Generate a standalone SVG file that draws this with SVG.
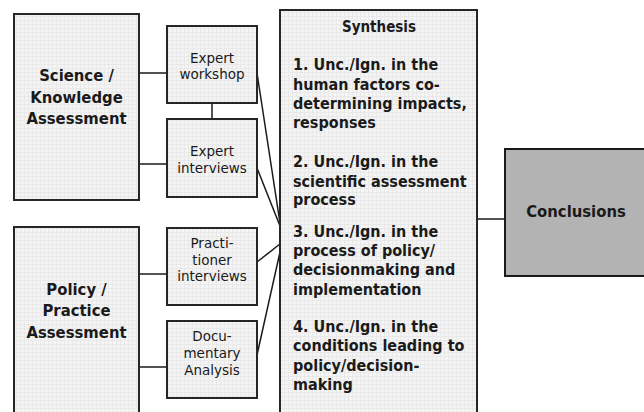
<svg xmlns="http://www.w3.org/2000/svg" width="644" height="412" viewBox="0 0 644 412">
  <defs>
    <!-- faint hatch grid used as box fill -->
    <pattern id="grid" width="4" height="4" patternUnits="userSpaceOnUse">
      <rect width="4" height="4" fill="#f4f4f4"/>
      <path d="M0 0.5H4M0.5 0V4" stroke="#e9e9e9" stroke-width="1"/>
    </pattern>
    <style>
      .box { fill: url(#grid); stroke: #262626; stroke-width: 2; }
      .dark { fill: #b3b3b3; stroke: #1a1a1a; stroke-width: 2; }
      .link { stroke: #1a1a1a; stroke-width: 1.5; fill: none; }
      text { font-family: "DejaVu Sans", "Liberation Sans", sans-serif; fill: #1a1a1a; }
      .big { font-size: 16.5px; font-weight: bold; font-stretch: condensed; text-anchor: middle; }
      .small { font-size: 13.5px; text-anchor: middle; }
      .list { font-size: 16px; font-weight: bold; font-stretch: condensed; }
      .title { font-size: 15px; font-weight: bold; font-stretch: condensed; text-anchor: middle; }
    </style>
  </defs>

  <rect width="644" height="412" fill="#ffffff"/>

  <!-- connectors -->
  <g id="connectors">
    <line class="link" x1="139" y1="73" x2="167" y2="73"/>
    <line class="link" x1="139" y1="164" x2="167" y2="164"/>
    <line class="link" x1="212" y1="103" x2="212" y2="119"/>
    <line class="link" x1="139" y1="274" x2="167" y2="274"/>
    <line class="link" x1="139" y1="367" x2="167" y2="367"/>
    <line class="link" x1="257" y1="73" x2="280" y2="223"/>
    <line class="link" x1="257" y1="168" x2="280" y2="226"/>
    <line class="link" x1="257" y1="262" x2="280" y2="244"/>
    <line class="link" x1="257" y1="355" x2="280" y2="252"/>
    <line class="link" x1="477" y1="219" x2="505" y2="219"/>
  </g>

  <g id="science">
    <rect class="box" x="14" y="14" width="125" height="186"/>
    <text class="big" x="76.5" y="81">Science /</text>
    <text class="big" x="76.5" y="103">Knowledge</text>
    <text class="big" x="76.5" y="124">Assessment</text>
  </g>

  <g id="policy">
    <rect class="box" x="14" y="227" width="125" height="195"/>
    <text class="big" x="76.5" y="295">Policy /</text>
    <text class="big" x="76.5" y="316">Practice</text>
    <text class="big" x="76.5" y="338">Assessment</text>
  </g>

  <g id="expert-workshop">
    <rect class="box" x="167" y="26" width="90" height="77"/>
    <text class="small" x="212" y="63">Expert</text>
    <text class="small" x="212" y="79">workshop</text>
  </g>

  <g id="expert-interviews">
    <rect class="box" x="167" y="119" width="90" height="78"/>
    <text class="small" x="212" y="156">Expert</text>
    <text class="small" x="212" y="173">interviews</text>
  </g>

  <g id="practitioner-interviews">
    <rect class="box" x="167" y="228" width="90" height="77"/>
    <text class="small" x="212" y="248">Practi-</text>
    <text class="small" x="212" y="265">tioner</text>
    <text class="small" x="212" y="281">interviews</text>
  </g>

  <g id="documentary-analysis">
    <rect class="box" x="167" y="321" width="90" height="77"/>
    <text class="small" x="212" y="341">Docu-</text>
    <text class="small" x="212" y="358">mentary</text>
    <text class="small" x="212" y="375">Analysis</text>
  </g>

  <g id="synthesis">
    <rect class="box" x="280" y="10" width="197" height="412"/>
    <text class="title" x="379" y="32">Synthesis</text>
    <text class="list" x="293" y="70">1. Unc./Ign. in the</text>
    <text class="list" x="293" y="89.5">human factors co-</text>
    <text class="list" x="293" y="109">determining impacts,</text>
    <text class="list" x="293" y="128">responses</text>
    <text class="list" x="293" y="167">2. Unc./Ign. in the</text>
    <text class="list" x="293" y="186.5">scientific assessment</text>
    <text class="list" x="293" y="205">process</text>
    <text class="list" x="293" y="237">3. Unc./Ign. in the</text>
    <text class="list" x="293" y="256">process of policy/</text>
    <text class="list" x="293" y="275">decisionmaking and</text>
    <text class="list" x="293" y="294.5">implementation</text>
    <text class="list" x="293" y="332">4. Unc./Ign. in the</text>
    <text class="list" x="293" y="351">conditions leading to</text>
    <text class="list" x="293" y="370.5">policy/decision-</text>
    <text class="list" x="293" y="390">making</text>
  </g>

  <g id="conclusions">
    <rect class="dark" x="505" y="149" width="150" height="127"/>
    <text class="big" x="576" y="217" font-size="17">Conclusions</text>
  </g>
</svg>
